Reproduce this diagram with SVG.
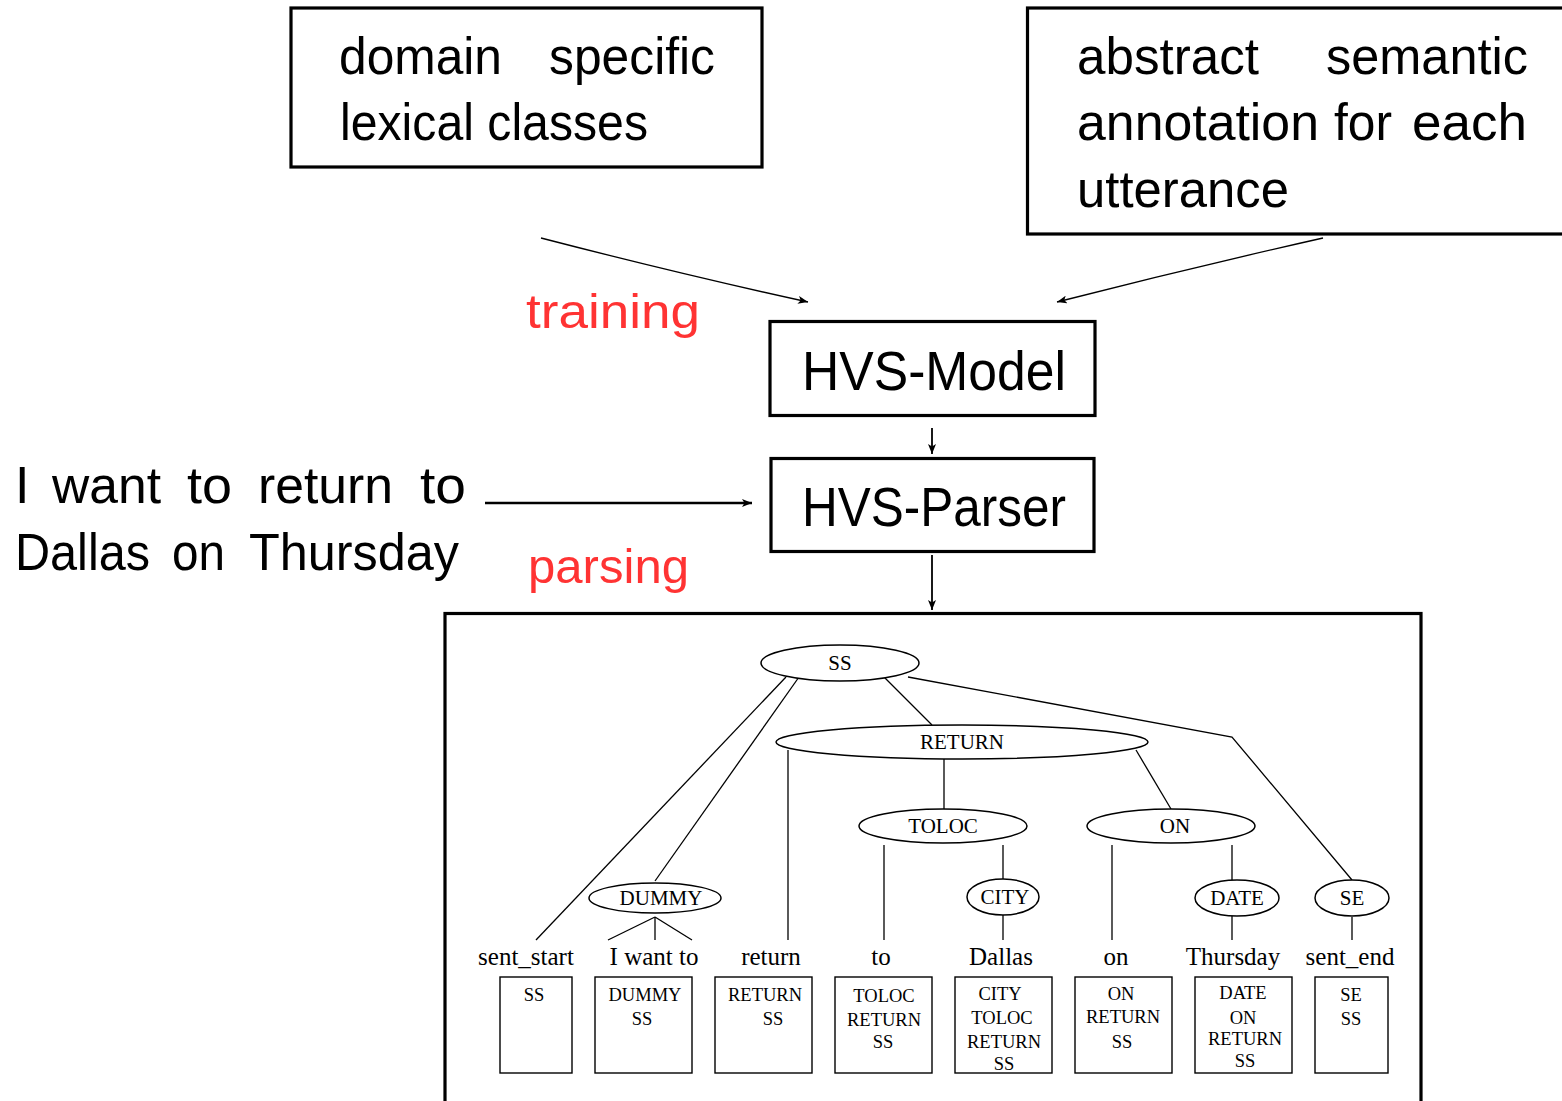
<svg xmlns="http://www.w3.org/2000/svg" width="1562" height="1101" viewBox="0 0 1562 1101">
  <defs>
    <marker id="head" viewBox="0 0 10 8" refX="10" refY="4" markerWidth="10" markerHeight="8" markerUnits="userSpaceOnUse" orient="auto">
      <path d="M0,0 L10,4 L0,8 L2.5,4 Z" fill="#000"/>
    </marker>
    <clipPath id="frameClip">
      <rect x="446" y="614" width="949" height="487"/>
    </clipPath>
  </defs>
  <style>
    .box { fill: #fff; stroke: #000; stroke-width: 3.2; }
    .sans { font-family: "Liberation Sans", Arial, sans-serif; fill: #000; }
    .big { font-size: 52px; }
    .red { fill: #ff3333; font-size: 49px; font-family: "Liberation Sans", Arial, sans-serif; }
    .wire { fill: none; stroke: #000; stroke-width: 1.3; }
    .edge { fill: none; stroke: #000; stroke-width: 1.3; }
    .node { fill: #fff; stroke: #000; stroke-width: 1.5; }
    .lbl { font-family: "Liberation Serif", "Times New Roman", serif; font-size: 21px; text-anchor: middle; fill: #000; }
    .word { font-family: "Liberation Serif", "Times New Roman", serif; font-size: 25px; text-anchor: middle; fill: #000; }
    .stack { fill: #fff; stroke: #000; stroke-width: 1.4; }
    .st { font-family: "Liberation Serif", "Times New Roman", serif; font-size: 18.5px; text-anchor: middle; fill: #000; }
  </style>

  <!-- top input boxes (justified lines are set word by word) -->
  <g id="lexical-classes">
    <rect class="box" x="291" y="8" width="471" height="159"/>
    <text class="sans big" x="339" y="74" textLength="163" lengthAdjust="spacingAndGlyphs">domain</text>
    <text class="sans big" x="549" y="74" textLength="166" lengthAdjust="spacingAndGlyphs">specific</text>
    <text class="sans big" x="340" y="140" textLength="308" lengthAdjust="spacingAndGlyphs">lexical classes</text>
  </g>
  <g id="semantic-annotation">
    <rect class="box" x="1027.5" y="8" width="540" height="226"/>
    <text class="sans big" x="1077" y="74" textLength="182" lengthAdjust="spacingAndGlyphs">abstract</text>
    <text class="sans big" x="1326" y="74" textLength="202" lengthAdjust="spacingAndGlyphs">semantic</text>
    <text class="sans big" x="1077" y="140" textLength="242" lengthAdjust="spacingAndGlyphs">annotation</text>
    <text class="sans big" x="1334" y="140" textLength="58" lengthAdjust="spacingAndGlyphs">for</text>
    <text class="sans big" x="1412" y="140" textLength="115" lengthAdjust="spacingAndGlyphs">each</text>
    <text class="sans big" x="1077" y="207" textLength="212" lengthAdjust="spacingAndGlyphs">utterance</text>
  </g>

  <!-- model and parser -->
  <g id="hvs-model">
    <rect class="box" x="770" y="321.5" width="325" height="94"/>
    <text class="sans" font-size="56" x="802" y="390" textLength="264" lengthAdjust="spacingAndGlyphs">HVS-Model</text>
  </g>
  <g id="hvs-parser">
    <rect class="box" x="771" y="458.5" width="323" height="93"/>
    <text class="sans" font-size="56" x="802" y="526" textLength="264" lengthAdjust="spacingAndGlyphs">HVS-Parser</text>
  </g>

  <g id="input-utterance">
    <text class="sans big" y="503">
      <tspan x="15">I</tspan>
      <tspan x="52" textLength="109" lengthAdjust="spacingAndGlyphs">want</tspan>
      <tspan x="187" textLength="45" lengthAdjust="spacingAndGlyphs">to</tspan>
      <tspan x="258" textLength="135" lengthAdjust="spacingAndGlyphs">return</tspan>
      <tspan x="420" textLength="46" lengthAdjust="spacingAndGlyphs">to</tspan>
    </text>
    <text class="sans big" y="570">
      <tspan x="15" textLength="135" lengthAdjust="spacingAndGlyphs">Dallas</tspan>
      <tspan x="172" textLength="53" lengthAdjust="spacingAndGlyphs">on</tspan>
      <tspan x="249" textLength="210" lengthAdjust="spacingAndGlyphs">Thursday</tspan>
    </text>
  </g>

  <g id="phase-labels">
    <text class="red" x="526" y="328" textLength="174" lengthAdjust="spacingAndGlyphs">training</text>
    <text class="red" x="528" y="583" textLength="161" lengthAdjust="spacingAndGlyphs">parsing</text>
  </g>

  <!-- flow arrows -->
  <g id="connectors">
    <path class="wire" d="M541,238 Q680,274 808,302" marker-end="url(#head)"/>
    <path class="wire" d="M1323,238 Q1190,268 1057,302" marker-end="url(#head)"/>
    <line x1="932" y1="428" x2="932" y2="454" stroke="#000" stroke-width="1.8" marker-end="url(#head)"/>
    <line x1="485" y1="503" x2="752" y2="503" stroke="#000" stroke-width="2.6" marker-end="url(#head)"/>
    <line x1="932" y1="555" x2="932" y2="610" stroke="#000" stroke-width="1.8" marker-end="url(#head)"/>
  </g>

  <!-- parse result frame -->
  <g id="parse-result">
    <rect x="445" y="613.5" width="976" height="500" fill="none" stroke="#000" stroke-width="3.2"/>

    <!-- tree edges -->
    <g id="tree-edges">
      <line class="edge" x1="786" y1="677" x2="536" y2="940"/>
      <line class="edge" x1="799" y1="677" x2="655" y2="881"/>
      <line class="edge" x1="884" y1="677" x2="932" y2="725"/>
      <polyline class="edge" points="908,677 1232,737 1352,880"/>
      <line class="edge" x1="788" y1="750" x2="788" y2="940"/>
      <line class="edge" x1="944" y1="759" x2="944" y2="809"/>
      <line class="edge" x1="1136" y1="750" x2="1171" y2="809"/>
      <line class="edge" x1="884" y1="845" x2="884" y2="940"/>
      <line class="edge" x1="1003" y1="845" x2="1003" y2="879"/>
      <line class="edge" x1="1003" y1="915" x2="1003" y2="940"/>
      <line class="edge" x1="1112" y1="845" x2="1112" y2="940"/>
      <line class="edge" x1="1232" y1="845" x2="1232" y2="880"/>
      <line class="edge" x1="1232" y1="916" x2="1232" y2="940"/>
      <line class="edge" x1="1352" y1="917" x2="1352" y2="940"/>
      <line class="edge" x1="655" y1="917" x2="608" y2="940"/>
      <line class="edge" x1="655" y1="917" x2="655" y2="940"/>
      <line class="edge" x1="655" y1="917" x2="692" y2="940"/>
    </g>

    <!-- tree nodes -->
    <g id="node-ss">
      <ellipse class="node" cx="840" cy="663" rx="79" ry="18"/>
      <text class="lbl" x="840" y="670">SS</text>
    </g>
    <g id="node-return">
      <ellipse class="node" cx="962" cy="742" rx="186" ry="17"/>
      <text class="lbl" x="962" y="749">RETURN</text>
    </g>
    <g id="node-toloc">
      <ellipse class="node" cx="943" cy="826" rx="84" ry="17"/>
      <text class="lbl" x="943" y="833">TOLOC</text>
    </g>
    <g id="node-on">
      <ellipse class="node" cx="1171" cy="826" rx="84" ry="17"/>
      <text class="lbl" x="1175" y="833">ON</text>
    </g>
    <g id="node-dummy">
      <ellipse class="node" cx="655" cy="898" rx="66" ry="15"/>
      <text class="lbl" x="661" y="905">DUMMY</text>
    </g>
    <g id="node-city">
      <ellipse class="node" cx="1003" cy="897" rx="36" ry="18"/>
      <text class="lbl" x="1005" y="904">CITY</text>
    </g>
    <g id="node-date">
      <ellipse class="node" cx="1237" cy="898" rx="42" ry="18"/>
      <text class="lbl" x="1237" y="905">DATE</text>
    </g>
    <g id="node-se">
      <ellipse class="node" cx="1352" cy="898" rx="37" ry="18"/>
      <text class="lbl" x="1352" y="905">SE</text>
    </g>

    <!-- words -->
    <g id="words">
      <text class="word" x="526" y="965">sent_start</text>
      <text class="word" x="654" y="965">I want to</text>
      <text class="word" x="771" y="965">return</text>
      <text class="word" x="881" y="965">to</text>
      <text class="word" x="1001" y="965">Dallas</text>
      <text class="word" x="1116" y="965">on</text>
      <text class="word" x="1233" y="965">Thursday</text>
      <text class="word" x="1350" y="965" clip-path="url(#frameClip)">sent_end</text>
    </g>

    <!-- semantic stacks -->
    <g id="stack-1">
      <rect class="stack" x="500" y="977" width="72" height="96"/>
      <text class="st" x="534" y="1001">SS</text>
    </g>
    <g id="stack-2">
      <rect class="stack" x="595" y="977" width="97" height="96"/>
      <text class="st" x="645" y="1001">DUMMY</text>
      <text class="st" x="642" y="1025">SS</text>
    </g>
    <g id="stack-3">
      <rect class="stack" x="715" y="977" width="97" height="96"/>
      <text class="st" x="765" y="1001">RETURN</text>
      <text class="st" x="773" y="1025">SS</text>
    </g>
    <g id="stack-4">
      <rect class="stack" x="835" y="977" width="97" height="96"/>
      <text class="st" x="884" y="1002">TOLOC</text>
      <text class="st" x="884" y="1026">RETURN</text>
      <text class="st" x="883" y="1048">SS</text>
    </g>
    <g id="stack-5">
      <rect class="stack" x="955" y="977" width="97" height="96"/>
      <text class="st" x="1000" y="1000">CITY</text>
      <text class="st" x="1002" y="1024">TOLOC</text>
      <text class="st" x="1004" y="1048">RETURN</text>
      <text class="st" x="1004" y="1070">SS</text>
    </g>
    <g id="stack-6">
      <rect class="stack" x="1075" y="977" width="97" height="96"/>
      <text class="st" x="1121" y="1000">ON</text>
      <text class="st" x="1123" y="1023">RETURN</text>
      <text class="st" x="1122" y="1048">SS</text>
    </g>
    <g id="stack-7">
      <rect class="stack" x="1195" y="977" width="97" height="96"/>
      <text class="st" x="1243" y="999">DATE</text>
      <text class="st" x="1243" y="1024">ON</text>
      <text class="st" x="1245" y="1045">RETURN</text>
      <text class="st" x="1245" y="1067">SS</text>
    </g>
    <g id="stack-8">
      <rect class="stack" x="1315" y="977" width="73" height="96"/>
      <text class="st" x="1351" y="1001">SE</text>
      <text class="st" x="1351" y="1025">SS</text>
    </g>
  </g>
</svg>
